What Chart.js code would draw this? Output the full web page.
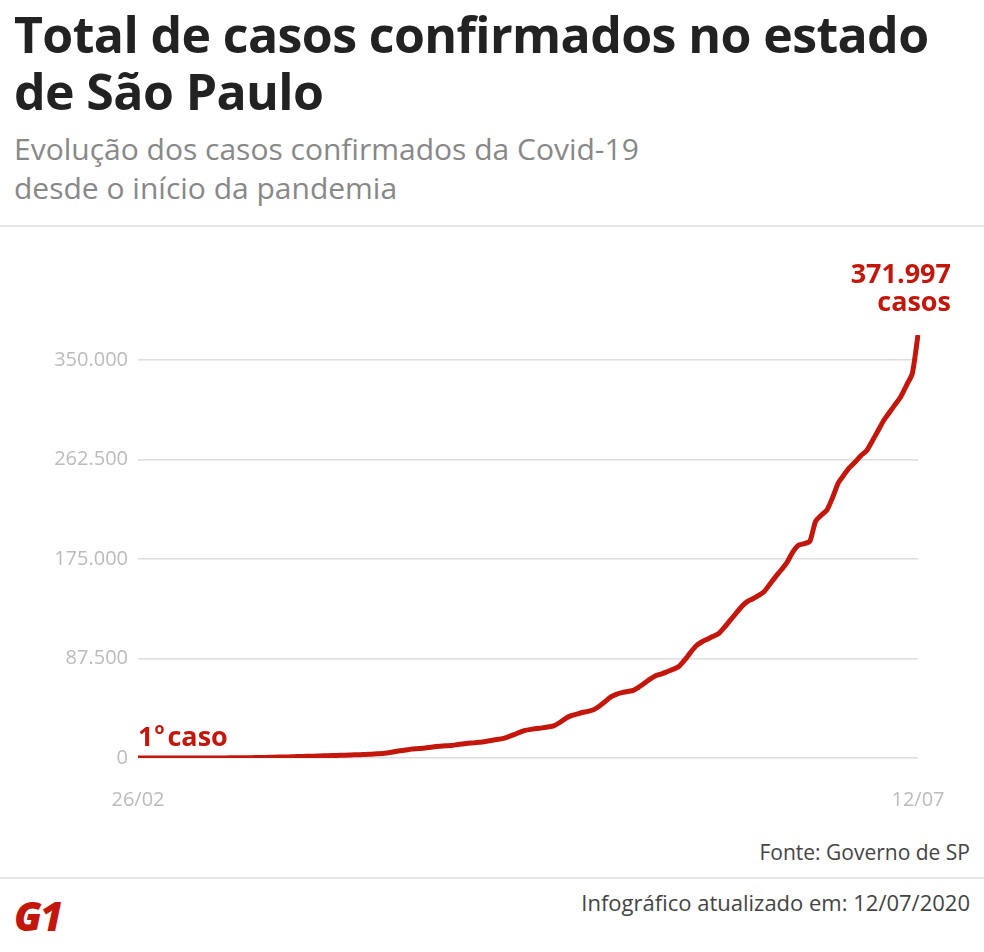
<!DOCTYPE html>
<html><head><meta charset="utf-8">
<script src="https://cdn.jsdelivr.net/npm/chart.js@4"></script>
<style>
body{margin:0;width:984px;height:952px;background:#fff;font-family:"Open Sans","Noto Sans",sans-serif;position:relative;overflow:hidden}
.t{position:absolute;left:14px;top:6px;font-size:50px;font-weight:700;color:#222;line-height:57px;letter-spacing:-0.6px}
.s{position:absolute;left:14px;top:129px;font-size:30px;color:#888;line-height:39px;font-weight:400}
.hr{position:absolute;left:0;width:984px;height:2px;background:#e6e6e6}
.src{position:absolute;right:14px;top:838px;font-size:21px;color:#444}
.upd{position:absolute;right:14px;top:887px;font-size:22px;color:#444}
.g1{position:absolute;left:14px;top:888px;font-size:40px;font-weight:800;color:#c4170c;font-style:italic;letter-spacing:-2px}
#w{position:absolute;left:0;top:240px;width:984px;height:594px}
</style></head><body>
<div class="t">Total de casos confirmados no estado<br>de São Paulo</div>
<div class="s">Evolução dos casos confirmados da Covid-19<br>desde o início da pandemia</div>
<div class="hr" style="top:225px"></div>
<div id="w"><canvas id="c"></canvas></div>
<div class="src">Fonte: Governo de SP</div>
<div class="hr" style="top:877px"></div>
<div class="g1">G1</div>
<div class="upd">Infográfico atualizado em: 12/07/2020</div>
<script>
const startLabel="26/02", endLabel="12/07";
const yTicks=[0,87500,175000,262500,350000];
const earlyCases=[1,1,1,2,2,3,3,6,10,13,16,19,30,46,56,65,136,152,164,240,286,396,459,631,745,810,862,1052,1223,1406,1451];
const laterCases=[1600,1800,1950,2100,2300,2450,2600,2750,2900,3100,3400,3700,4000,4700,5500,6300,7000,7800,8200,8600,9200,9900,10400,10800,11000,11700,12400,13000,13300,13800,14500,15400,16300,17000,18600,20500,22600,24300,25200,25900,26500,27300,28200,31000,34500,37000,38500,40000,41000,42500,45500,49500,53500,56000,57500,58500,59500,62500,66000,69500,72500,74000,76000,78000,80500,86000,92500,98500,102000,104500,107000,109500,115000,121000,127000,133000,137500,140000,143000,146500,153000,159500,165500,172000,181000,187000,188500,190500,208000,213500,218000,229000,242000,249000,255500,260500,266000,270500,279000,288000,297000,304000,311000,318000,328000,338000,371997];
const cases=earlyCases.concat(laterCases);
const labels=cases.map((v,i)=>{const d=new Date(2020,1,26+i);return String(d.getDate()).padStart(2,'0')+'/'+String(d.getMonth()+1).padStart(2,'0');});
const fmt=v=>v.toLocaleString('de-DE');
const red='#c4170c';
const ann={id:'ann',afterDatasetsDraw(ch){
 const {ctx,scales:{x,y}}=ch;ctx.save();ctx.fillStyle=red;
 ctx.font='bold 27px "Open Sans"';ctx.textAlign='left';ctx.textBaseline='alphabetic';
 const x0=x.getPixelForValue(0),y0=y.getPixelForValue(cases[0]);
 ctx.fillText('1',x0,y0-12);let w=ctx.measureText('1').width;
 ctx.font='bold 16px "Open Sans"';ctx.fillText('o',x0+w+1,y0-24);
 ctx.font='bold 27px "Open Sans"';ctx.fillText('caso',x0+w+14,y0-12);
 const n=cases.length-1,xl=x.getPixelForValue(n),yl=y.getPixelForValue(cases[n]);
 ctx.textAlign='right';ctx.fillText(fmt(cases[n]),xl+33,yl-52);ctx.fillText('casos',xl+33,yl-24);
 ctx.restore();}};
new Chart(document.getElementById('c'),{type:'line',
 data:{labels,datasets:[{data:cases,borderColor:red,borderWidth:5,pointRadius:0,tension:0.2,fill:false}]},
 plugins:[ann],
 options:{responsive:true,maintainAspectRatio:false,animation:false,
  layout:{padding:{top:95,right:66,bottom:0,left:0}},
  plugins:{legend:{display:false},tooltip:{enabled:false}},
  scales:{
   x:{grid:{display:false},border:{display:false},
      ticks:{autoSkip:false,maxRotation:0,padding:22,color:'#bbb',font:{size:20,family:'"Open Sans"'},
       callback:(v,i)=>i===0?startLabel:(i===cases.length-1?endLabel:null)}},
   y:{min:0,max:372000,border:{display:false},
      afterBuildTicks:a=>{a.ticks=yTicks.map(v=>({value:v}));},
      afterFit:a=>{a.width=138;},
      grid:{color:'#ddd',lineWidth:1.5,drawTicks:false},
      ticks:{padding:10,color:'#bbb',font:{size:20,family:'"Open Sans"'},callback:v=>fmt(v)}}
  }}});
</script></body></html>
